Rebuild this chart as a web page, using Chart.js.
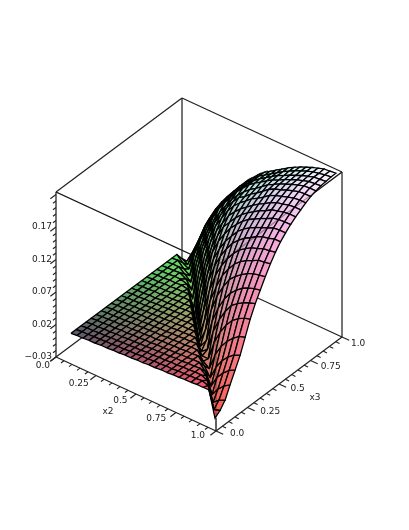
<!DOCTYPE html>
<html>
<head>
<meta charset="utf-8">
<style>
  html, body { margin: 0; padding: 0; background: #fff; }
  #wrap { width: 409px; height: 530px; }
</style>
</head>
<body>
<div id="wrap"><canvas id="plot" width="409" height="530"></canvas></div>
<script src="https://cdn.jsdelivr.net/npm/chart.js@4/dist/chart.umd.min.js"></script>
<script>
const x2Values = [0.07, 0.1075, 0.145, 0.1825, 0.22, 0.2575, 0.295, 0.3325, 0.37, 0.4075, 0.445, 0.4825, 0.52, 0.5575, 0.595, 0.6325, 0.67, 0.7075, 0.745, 0.7825, 0.82, 0.8575, 0.895, 0.9325, 0.97];
const x3Values = [0.03, 0.07, 0.11, 0.15, 0.19, 0.23, 0.27, 0.31, 0.35, 0.39, 0.43, 0.47, 0.51, 0.55, 0.59, 0.63, 0.67, 0.71, 0.75, 0.79, 0.83, 0.87, 0.91, 0.95, 0.99];

// one row per x3 value, one column per x2 value
const zValues = [
  [.010,.011,.011,.012,.012,.013,.013,.014,.014,.015,.015,.016,.016,.017,.017,.018,.018,.019,.019,.020,.020,.021,.021,.021,-.018],
  [.010,.011,.011,.012,.012,.013,.013,.014,.014,.015,.015,.016,.016,.017,.017,.018,.018,.019,.019,.020,.020,.021,.018,-.015,-.012],
  [.010,.011,.011,.012,.012,.013,.013,.014,.014,.015,.015,.016,.016,.017,.017,.018,.018,.019,.019,.020,.020,.016,-.014,-.006,-.002],
  [.010,.011,.011,.012,.012,.013,.013,.014,.014,.015,.015,.016,.016,.017,.017,.018,.018,.019,.019,.020,.013,-.012,.001,.010,.016],
  [.010,.011,.011,.012,.012,.013,.013,.014,.014,.015,.015,.016,.016,.017,.017,.018,.018,.019,.019,.010,-.009,.009,.020,.028,.033],
  [.010,.011,.011,.012,.012,.013,.013,.014,.014,.015,.015,.016,.016,.017,.017,.018,.018,.019,.008,-.006,.015,.029,.039,.046,.050],
  [.010,.011,.011,.012,.012,.013,.013,.014,.014,.015,.015,.016,.016,.017,.017,.018,.018,.005,-.002,.024,.041,.053,.062,.069,.072],
  [.010,.011,.011,.012,.012,.013,.013,.014,.014,.015,.015,.016,.016,.017,.017,.018,.003,.003,.033,.053,.068,.079,.086,.091,.094],
  [.010,.011,.011,.012,.012,.013,.013,.014,.014,.015,.015,.016,.016,.017,.017,.000,.007,.040,.062,.079,.092,.099,.105,.109,.112],
  [.010,.011,.011,.012,.012,.013,.013,.014,.014,.015,.015,.016,.016,.017,-.002,.011,.046,.070,.088,.101,.110,.117,.122,.125,.127],
  [.010,.011,.011,.012,.012,.013,.013,.014,.014,.015,.015,.016,.016,-.005,.017,.053,.079,.097,.112,.121,.128,.134,.138,.140,.142],
  [.010,.011,.011,.012,.012,.013,.013,.014,.014,.015,.015,.016,-.007,.022,.058,.083,.104,.118,.130,.138,.144,.148,.153,.154,.156],
  [.010,.011,.011,.012,.012,.013,.013,.014,.014,.015,.015,-.009,.027,.062,.090,.109,.124,.136,.146,.152,.158,.161,.165,.166,.168],
  [.010,.011,.011,.012,.012,.013,.013,.014,.014,.015,-.011,.029,.067,.094,.114,.129,.142,.151,.158,.163,.169,.173,.175,.178,.178],
  [.010,.011,.011,.012,.012,.013,.013,.014,.014,-.013,.030,.068,.095,.115,.131,.143,.154,.162,.168,.173,.177,.181,.185,.186,.186],
  [.010,.011,.011,.012,.012,.013,.013,.014,-.015,.032,.068,.096,.117,.132,.145,.155,.164,.171,.176,.181,.185,.190,.192,.193,.193],
  [.010,.011,.011,.012,.012,.013,.011,-.014,.033,.066,.093,.115,.133,.144,.155,.164,.171,.177,.183,.187,.193,.195,.198,.199,.199],
  [.010,.011,.011,.012,.012,.009,-.009,.033,.065,.091,.113,.129,.144,.154,.163,.170,.177,.183,.188,.194,.198,.200,.203,.204,.204],
  [.010,.011,.011,.012,.007,-.006,.033,.064,.088,.110,.126,.141,.153,.162,.169,.177,.182,.188,.195,.199,.202,.205,.208,.209,.209],
  [.010,.011,.011,.004,-.004,.031,.060,.084,.105,.121,.136,.149,.160,.166,.174,.180,.187,.194,.199,.202,.206,.209,.212,.213,.213],
  [.010,.011,.002,-.004,.028,.055,.078,.098,.115,.129,.143,.154,.163,.171,.177,.184,.191,.196,.201,.205,.209,.212,.215,.216,.216],
  [.010,.001,-.004,.025,.051,.072,.092,.110,.124,.136,.149,.159,.168,.175,.181,.187,.193,.197,.202,.206,.210,.213,.216,.217,.218],
  [-.002,-.007,.017,.042,.065,.083,.100,.115,.127,.138,.151,.160,.169,.176,.182,.188,.194,.198,.203,.207,.211,.214,.217,.218,.219],
  [-.012,.007,.030,.055,.074,.090,.105,.118,.130,.140,.152,.161,.170,.176,.182,.188,.194,.199,.204,.208,.212,.215,.217,.219,.220],
  [-.008,.015,.040,.062,.080,.095,.108,.120,.132,.143,.153,.162,.170,.176,.182,.188,.194,.199,.204,.208,.212,.215,.218,.219,.220]
];

const x2TickLabels = ["0.0", "0.25", "0.5", "0.75", "1.0"];
const x3TickLabels = ["0.0", "0.25", "0.5", "0.75", "1.0"];
const zTickLabels = ["\u22120.03", "0.02", "0.07", "0.12", "0.17"];
const zMin = -0.03;
const zMax = 0.2238;

function toScreen(x2, x3, z) {
    return {
        x: 56 + 160 * x2 + 126 * x3,
        y: 357 + 74 * x2 - 94 * x3 - 650 * (z - zMin)
    };
}

function depthOf(x2, x3, z) {
    const w = (z - zMin) / (zMax - zMin);
    return -20790 * x2 + 26400 * x3 - 24364 * w;
}

function lineSet(points, color, order, width) {
    return {
        data: points,
        showLine: true,
        borderColor: color,
        borderWidth: width || 1.25,
        pointRadius: 0,
        fill: false,
        order: order
    };
}

const datasets = [];

// box edges behind the surface
const backOrder = 5000;
[
    [[0, 0, zMin], [0, 1, zMin]],
    [[0, 1, zMin], [1, 1, zMin]],
    [[0, 1, zMin], [0, 1, zMax]],
    [[0, 0, zMax], [0, 1, zMax]],
    [[0, 1, zMax], [1, 1, zMax]],
    [[0, 0, zMax], [1, 0, zMax]],
    [[1, 0, zMax], [1, 1, zMax]],
    [[0, 0, zMin], [0, 0, zMax]],
    [[1, 1, zMin], [1, 1, zMax]]
].forEach(e => {
    datasets.push(lineSet(e.map(p => toScreen(p[0], p[1], p[2])), "#222", backOrder));
});

// surface patches, farthest first
const patches = [];
for (let j = 0; j < x3Values.length - 1; j++) {
    for (let i = 0; i < x2Values.length - 1; i++) {
        const corners = [[i, j], [i + 1, j], [i + 1, j + 1], [i, j + 1]].map(c => [x2Values[c[0]], x3Values[c[1]], zValues[c[1]][c[0]]]);
        const mean = [0, 1, 2].map(k => corners.reduce((s, c) => s + c[k], 0) / 4);
        patches.push({ corners, mean, depth: depthOf(mean[0], mean[1], mean[2]) });
    }
}
patches.sort((a, b) => a.depth - b.depth);

patches.forEach((p, idx) => {
    const w = (p.mean[2] - zMin) / (zMax - zMin);
    const r = Math.round(80 + 175 * p.mean[0]);
    const g = Math.round(80 + 170 * p.mean[1]);
    const b = Math.round(75 + 180 * w);
    const pts = p.corners.map(c => toScreen(c[0], c[1], c[2]));
    pts.push(pts[0]);
    datasets.push({
        data: pts,
        showLine: true,
        borderColor: "#000",
        borderWidth: 1.3,
        backgroundColor: `rgb(${r},${g},${b})`,
        pointRadius: 0,
        fill: "shape",
        order: 1000 + idx
    });
});

// front edges show faintly through the surface
[
    [[0, 0, zMax], [1, 0, zMax]],
    [[1, 0, zMax], [1, 1, zMax]],
    [[1, 0, zMin], [1, 0, zMax]]
].forEach(e => {
    datasets.push(lineSet(e.map(p => toScreen(p[0], p[1], p[2])), "rgba(0,0,0,0.35)", 100));
});

// bottom edges and the front vertical below the tip
datasets.push(lineSet([toScreen(0, 0, zMin), toScreen(1, 0, zMin)], "#222", 50));
datasets.push(lineSet([toScreen(1, 0, zMin), toScreen(1, 1, zMin)], "#222", 50));
datasets.push(lineSet([toScreen(1, 0, zMin), toScreen(1, 0, zMin + 0.02)], "#222", 50));

// ticks: x2 ticks lean along -x3, x3 ticks along +x2, z ticks along -x3
for (let n = 0; n <= 20; n++) {
    const major = n % 5 === 0;
    const v = n / 20;
    const len = major ? 0.045 : 0.024;
    datasets.push(lineSet([toScreen(v, 0, zMin), toScreen(v, -len, zMin)], "#222", 40, 1.1));
    datasets.push(lineSet([toScreen(1, v, zMin), toScreen(1 + len, v, zMin)], "#222", 40, 1.1));
}
for (let n = 0; n <= 25; n++) {
    const major = n % 5 === 0;
    const z = zMin + n / 100;
    const len = major ? 0.045 : 0.024;
    datasets.push(lineSet([toScreen(0, 0, z), toScreen(0, -len, z)], "#222", 40, 1.1));
}

const axisText = {
    id: "axisText",
    afterDraw(chart) {
        const ctx = chart.ctx;
        ctx.save();
        ctx.font = '9px "DejaVu Sans"';
        ctx.fillStyle = "#222";
        ctx.textBaseline = "middle";

        ctx.textAlign = "right";
        x2TickLabels.forEach((label, n) => {
            const v = n / (x2TickLabels.length - 1);
            const p = toScreen(v, 0, zMin);
            ctx.fillText(label, p.x - 6 - 5 * v, p.y + 9 - 4 * v);
        });
        zTickLabels.forEach((label, n) => {
            const p = toScreen(0, 0, zMin + n * 0.05);
            ctx.fillText(label, 52, p.y);
        });

        ctx.textAlign = "left";
        x3TickLabels.forEach((label, n) => {
            const v = n / (x3TickLabels.length - 1);
            const p = toScreen(1, v, zMin);
            ctx.fillText(label, p.x + 14 - 5 * v, p.y + 3 + 4 * v);
        });

        ctx.textAlign = "center";
        const x2Mid = toScreen(0.5, 0, zMin);
        const x3Mid = toScreen(1, 0.5, zMin);
        ctx.fillText("x2", x2Mid.x - 28, x2Mid.y + 18);
        ctx.fillText("x3", x3Mid.x + 36, x3Mid.y + 14);
        ctx.restore();
    }
};

new Chart(document.getElementById("plot").getContext("2d"), {
    type: "scatter",
    data: { datasets: datasets },
    options: {
        responsive: false,
        animation: false,
        layout: { padding: 0 },
        elements: { line: { tension: 0 } },
        plugins: { legend: { display: false }, tooltip: { enabled: false }, title: { display: false } },
        scales: {
            x: { type: "linear", min: 0, max: 409, display: false },
            y: { type: "linear", min: 0, max: 530, reverse: true, display: false }
        }
    },
    plugins: [axisText]
});
</script>
</body>
</html>
